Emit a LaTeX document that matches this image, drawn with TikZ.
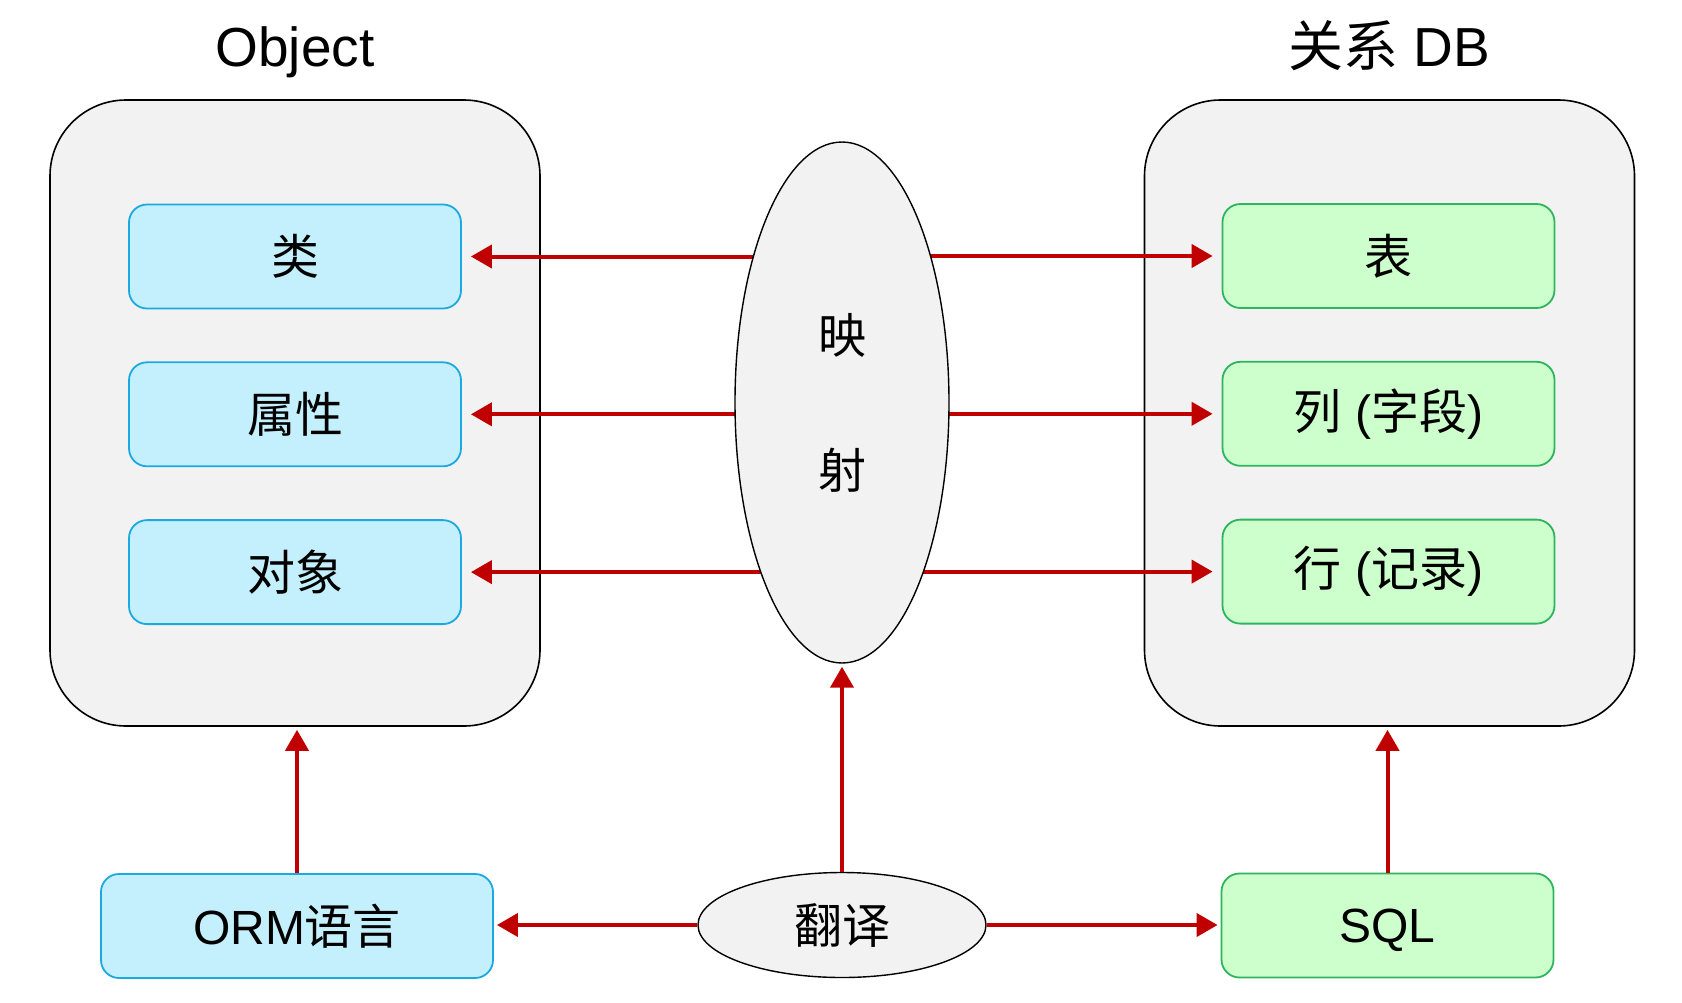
\documentclass[tikz,border=0pt]{standalone}
\usepackage{fontspec}
\setmainfont{Liberation Sans}
\newfontfamily\cjk{Noto Sans CJK SC}
\usepackage{tikz}
\usetikzlibrary{arrows.meta,positioning,shapes.geometric}
\usepackage{xcolor}
\definecolor{boxblue}{HTML}{C4F0FD}
\definecolor{lineblue}{HTML}{1CA9E0}
\definecolor{boxgreen}{HTML}{CCFFCC}
\definecolor{linegreen}{HTML}{2DB55D}
\definecolor{panelgray}{HTML}{F2F2F2}
\definecolor{arrowred}{HTML}{C00000}
\newcommand{\zh}[1]{{\cjk #1}}

\begin{document}
\begin{tikzpicture}[
  x=0.5pt, y=-0.5pt,
  node distance=26pt,
  panel/.style={draw, line width=0.8pt, fill=panelgray, rounded corners=38pt,
    minimum width=245pt, minimum height=313pt},
  heading/.style={font=\fontsize{27.5}{32}\selectfont, anchor=base},
  block/.style={draw, line width=0.9pt, rounded corners=9pt, minimum width=166pt,
    minimum height=52pt, inner sep=0pt, font=\fontsize{24}{28}\selectfont},
  objblock/.style={block, fill=boxblue, draw=lineblue},
  dbblock/.style={block, fill=boxgreen, draw=linegreen},
  oval/.style={ellipse, draw, line width=0.7pt, fill=panelgray, inner sep=0pt,
    align=center, font=\fontsize{24}{28}\selectfont},
  arrow/.style={-{Triangle[length=10.5pt,width=11.5pt]}, line width=2pt, draw=arrowred}
]
\useasboundingbox (0,0) rectangle (1682,1002);

% two sides
\node[panel] (objside) at (295,413) {};
\node[panel] (dbside) at (1389.5,413) {};
\node[heading] (objtitle) at (295,66) {Object};
\node[heading] (dbtitle) at (1389,66) {\zh{关系} DB};

\node[objblock] (cls) at (295,256.5) {\zh{类}};
\node[objblock, below=of cls] (attr) {\zh{属性}};
\node[objblock, below=of attr] (inst) {\zh{对象}};

\node[dbblock] (tbl) at (1388.5,256) {\zh{表}};
\node[dbblock, below=of tbl] (col) {\zh{列} (\zh{字段})};
\node[dbblock, below=of col] (row) {\zh{行} (\zh{记录})};

% mapping in the middle
\coordinate (mapc) at (842,402.5);
\draw[arrow, shorten >=4.5pt] (mapc |- cls.east) -- (cls.east);
\draw[arrow, shorten >=4.5pt] (mapc |- attr.east) -- (attr.east);
\draw[arrow, shorten >=4.5pt] (mapc |- inst.east) -- (inst.east);
\draw[arrow, shorten >=4.5pt] (mapc |- tbl.west) -- (tbl.west);
\draw[arrow, shorten >=4.5pt] (mapc |- col.west) -- (col.west);
\draw[arrow, shorten >=4.5pt] (mapc |- row.west) -- (row.west);
\node[oval, minimum width=107pt, minimum height=260.5pt,
  font=\fontsize{24}{67.5}\selectfont] (map) at (mapc) {\zh{映}\\\zh{射}};

% bottom row
\node[objblock, minimum width=196pt] (orm) at (297,926) {ORM\zh{语言}};
\node[dbblock, text height=17pt, text depth=0pt] (sql) at (1387.5,925.5) {SQL};
\node[oval, minimum width=144pt, minimum height=52.5pt] (trans) at (842,925) {\zh{翻译}};

\draw[arrow, shorten >=1.5pt] (trans.west) -- (trans.west -| orm.east);
\draw[arrow, shorten >=1.5pt] (trans.east) -- (trans.east -| sql.west);
\draw[arrow, shorten >=1.5pt] (trans.north) -- (map.south);
\draw[arrow, shorten >=1.5pt] (orm.north) -- (orm.north |- objside.south);
\draw[arrow, shorten >=1.5pt] (sql.north) -- (sql.north |- dbside.south);
\end{tikzpicture}
\end{document}
